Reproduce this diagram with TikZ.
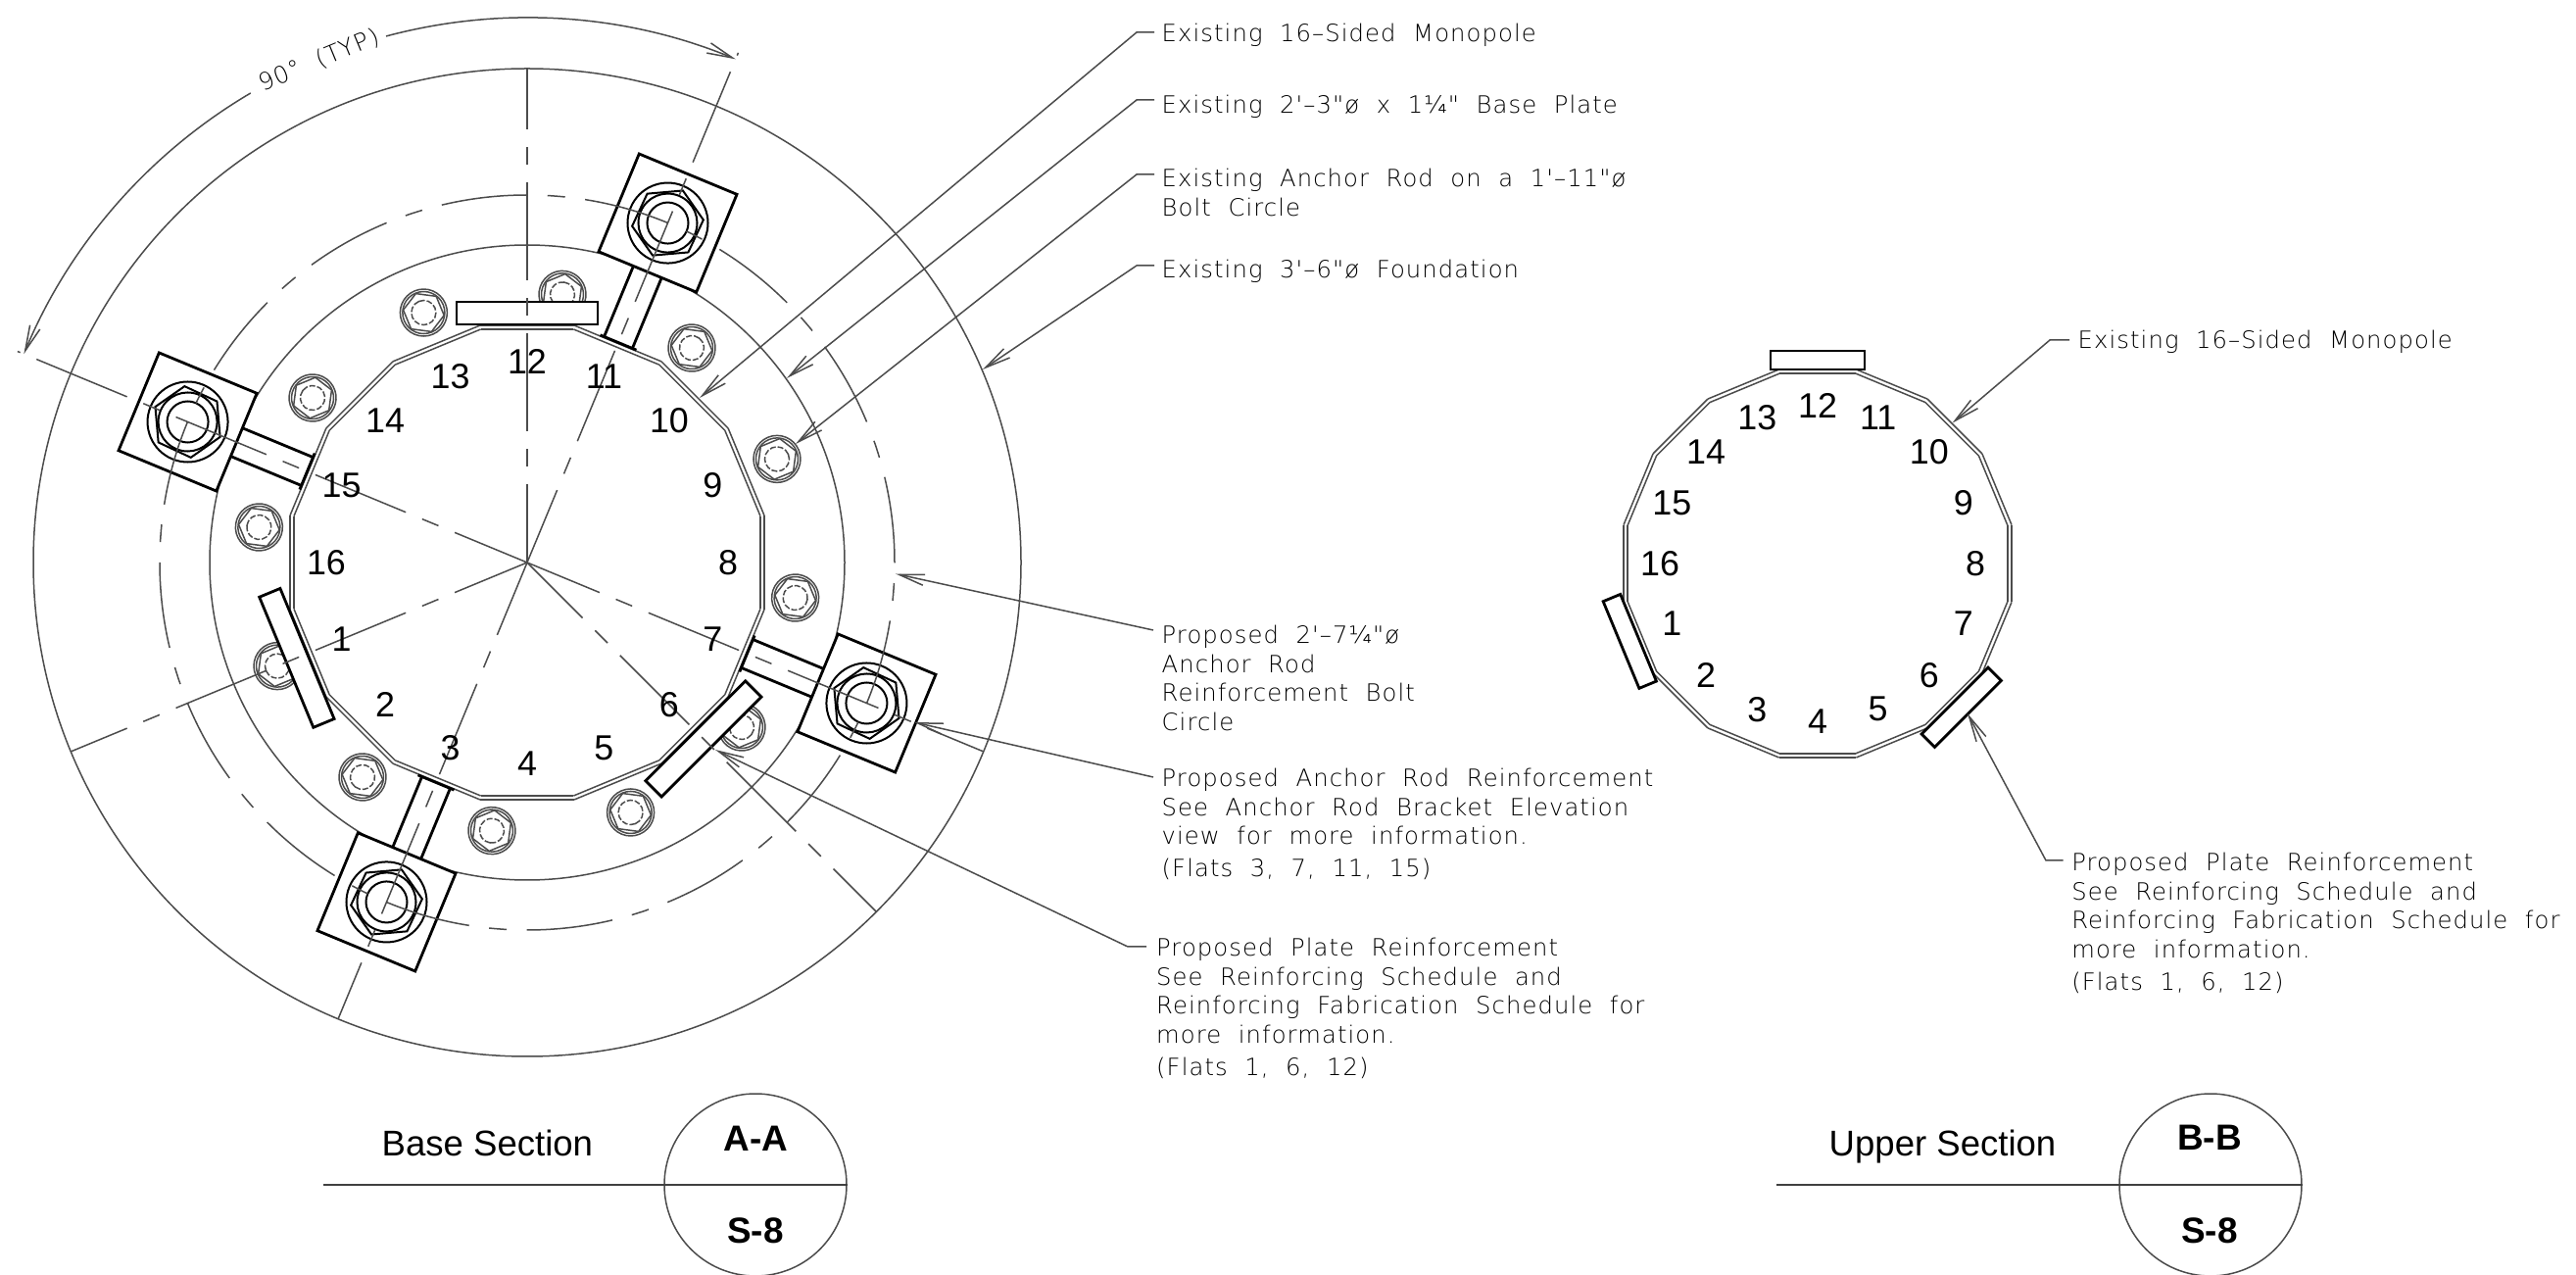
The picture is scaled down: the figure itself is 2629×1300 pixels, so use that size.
\documentclass[tikz,border=0pt]{standalone}
\usepackage{fontspec}
\usepackage{tikz}
\usetikzlibrary{arrows.meta,calc}
\setmainfont{Liberation Sans}
\newfontfamily\notefont[LetterSpace=4.5,WordSpace=2]{DejaVu Sans ExtraLight}

\tikzset{
    thinline/.style={line width=.15mm, draw=black!70},
    medline/.style={line width=.2mm, draw=black},
    boldline/.style={line width=.28mm, draw=black},
    cline/.style={thinline, dash pattern=on 10mm off 1.8mm on 1.8mm off 1.8mm, dash phase=2mm},
    bcircle/.style={thinline, dash pattern=on 8.8mm off 2.06mm on 1.8mm off 2.066mm},
    leader/.style={thinline, -{Straight Barb[length=2.6mm,width=1.1mm]}},
    note/.style={anchor=north west, inner sep=0pt, align=left, yshift=7.1pt, text=black,
        font=\notefont\fontsize{6.9pt}{8.5pt}\selectfont, execute at begin node={\rule{0pt}{7.1pt}}},
    flatnum/.style={inner sep=0pt, font=\fontsize{10.2pt}{12pt}\selectfont},
    sectitle/.style={anchor=base west, inner sep=0pt, font=\fontsize{10.4pt}{12pt}\selectfont},
    tag/.style={inner sep=0pt, font=\bfseries\fontsize{10.5pt}{12pt}\selectfont},
    bubble/.style={circle, thinline, minimum size=18.6mm, inner sep=0pt},
    secline/.style={line width=.2mm, draw=black!75},
}

\begin{document}
\begin{tikzpicture}[x=.1mm, y=.1mm]
    \useasboundingbox (0,0) rectangle (2629,1300);
    \coordinate (a0) at (538,726);
    \coordinate (b0) at (1855,725);

    \begin{scope}[shift={(a0)}]
        \draw[thinline] (0,0) circle[radius=504];
        \draw[thinline] (0,0) circle[radius=324];
        \foreach \b in {22.5,52.5,...,352.5} {
            \begin{scope}[rotate=\b]
                \draw[thinline] (276,0) circle[radius=24];
                \draw[thinline] (276,0) circle[radius=21.5];
                \draw[thinline, dash pattern=on .6mm off .2mm] (276,0) circle[radius=12.5];
                \draw[thinline] (297,0) \foreach \k in {1,...,5} {-- ($(276,0)+({60*\k}:21)$)} -- cycle;
            \end{scope}
        }
        \foreach \r in {0,22.5,...,337.5} {
            \draw[thinline] ({\r+11.25}:246.7) -- ({\r+33.75}:246.7);
            \draw[thinline] ({\r+11.25}:242.7) -- ({\r+33.75}:242.7);
        }
        \foreach \r in {67.5,157.5,247.5,337.5} {
            \begin{scope}[rotate=\r]
                \draw[boldline, fill=white] (321,-54) rectangle (429,54);
                \draw[boldline] (243,15.6) -- (321,15.6);
                \draw[boldline] (243,-15.6) -- (321,-15.6);
                \draw[boldline] (243,-20) -- (243,20);
                \draw[medline] (375,0) circle[radius=41];
                \draw[medline] (375,0) circle[radius=30];
                \draw[medline] (375,0) circle[radius=21];
                \draw[medline] ($(375,0)+(-2.5:36.5)$) \foreach \k in {1,...,5} {-- ($(375,0)+({60*\k-2.5}:36.5)$)} -- cycle;
            \end{scope}
        }
        \draw[bcircle] (375,0) arc[start angle=0, end angle=360, radius=375];
        \foreach \r in {90,202.5,315} {
            \begin{scope}[rotate=\r]
                \draw[boldline, fill=white] (243,-72) rectangle (266,72);
            \end{scope}
        }
        \foreach \r in {90,202.5,315,247.5,337.5} {
            \draw[cline] (0,0) -- (\r:504);
        }
        \foreach \r in {67.5,157.5} {
            \draw[cline] (0,0) -- (\r:563);
        }
        \foreach \n in {1,...,16} {
            \node[flatnum] (na\n) at ({180+22.5*\n}:205) {\n};
        }
        \draw[leader] (105:556) arc[start angle=105, end angle=67.5, radius=556];
        \draw[leader] (120.5:556) arc[start angle=120.5, end angle=157.5, radius=556];
        \node[note, anchor=center, yshift=-7.1pt, rotate=22.5] (dim) at (112.5:558) {90° (TYP)};
    \end{scope}

    \begin{scope}[shift={(b0)}]
        \foreach \r in {0,22.5,...,337.5} {
            \draw[thinline] ({\r+11.25}:201.9) -- ({\r+33.75}:201.9);
            \draw[thinline] ({\r+11.25}:197.8) -- ({\r+33.75}:197.8);
        }
        \foreach \r in {90,202.5,315} {
            \begin{scope}[rotate=\r]
                \draw[boldline, fill=white] (198,-48) rectangle (217,48);
            \end{scope}
        }
        \foreach \n in {1,...,16} {
            \node[flatnum] (nb\n) at ({180+22.5*\n}:161) {\n};
        }
    \end{scope}

    \coordinate (t1) at (714,894);
    \coordinate (k1) at (1160,1267);
    \coordinate (e1) at (1178,1267);
    \node[note] (n1) at (1185,1258) {Existing 16–Sided Monopole};
    \draw[leader] (e1) -- (k1) -- (t1);

    \coordinate (t2) at (803,914);
    \coordinate (k2) at (1160,1198);
    \coordinate (e2) at (1178,1198);
    \node[note] (n2) at (1185,1185) {Existing 2'–3"ø x 1¼" Base Plate};
    \draw[leader] (e2) -- (k2) -- (t2);

    \coordinate (t3) at (812,847);
    \coordinate (k3) at (1160,1122);
    \coordinate (e3) at (1178,1122);
    \node[note] (n3) at (1185,1104) {Existing Anchor Rod on a 1'–11"ø\\Bolt Circle};
    \draw[leader] (e3) -- (k3) -- (t3);

    \coordinate (t4) at (1003,923);
    \coordinate (k4) at (1160,1029);
    \coordinate (e4) at (1178,1029);
    \node[note] (n4) at (1185,1017) {Existing 3'–6"ø Foundation};
    \draw[leader] (e4) -- (k4) -- (t4);

    \coordinate (t5) at (914,714.5);
    \coordinate (e5) at (1177,657);
    \node[note] (n5) at (1185,638) {Proposed 2'–7¼"ø\\Anchor Rod\\Reinforcement Bolt\\Circle};
    \draw[leader] (e5) -- (t5);

    \coordinate (t6) at (933,563);
    \coordinate (e6) at (1177,507);
    \node[note] (n6) at (1185,492) {Proposed Anchor Rod Reinforcement\\See Anchor Rod Bracket Elevation\\view for more information.\\[.9pt](Flats 3, 7, 11, 15)};
    \draw[leader] (e6) -- (t6);

    \coordinate (t7) at (730,535);
    \coordinate (k7) at (1151,334);
    \coordinate (e7) at (1170,334);
    \node[note] (n7) at (1179.5,319) {Proposed Plate Reinforcement\\See Reinforcing Schedule and\\Reinforcing Fabrication Schedule for\\more information.\\[.9pt](Flats 1, 6, 12)};
    \draw[leader] (e7) -- (k7) -- (t7);

    \coordinate (t8) at (1992.4,868.3);
    \coordinate (k8) at (2092,953);
    \coordinate (e8) at (2112,953);
    \node[note] (n8) at (2120,945) {Existing 16–Sided Monopole};
    \draw[leader] (e8) -- (k8) -- (t8);

    \coordinate (t9) at (2008,572);
    \coordinate (k9) at (2088,422);
    \coordinate (e9) at (2105.6,422);
    \node[note] (n9) at (2113.6,406) {Proposed Plate Reinforcement\\See Reinforcing Schedule and\\Reinforcing Fabrication Schedule for\\more information.\\[.9pt](Flats 1, 6, 12)};
    \draw[leader] (e9) -- (k9) -- (t9);

    \node[sectitle] (ta) at (389,121) {Base Section};
    \node[bubble, draw] (ba) at (771,91) {};
    \coordinate (la) at (330,91);
    \draw[secline] (la) -- (ba.east);
    \node[tag] (aa) at (771.5,138) {A-A};
    \node[tag] (sa) at (771,44) {S-8};

    \node[sectitle] (tb) at (1866,121) {Upper Section};
    \node[bubble, draw] (bb) at (2256,91) {};
    \coordinate (lb) at (1813,91);
    \draw[secline] (lb) -- (bb.east);
    \node[tag] (ab) at (2255,139) {B-B};
    \node[tag] (sb) at (2255,44) {S-8};
\end{tikzpicture}
\end{document}
